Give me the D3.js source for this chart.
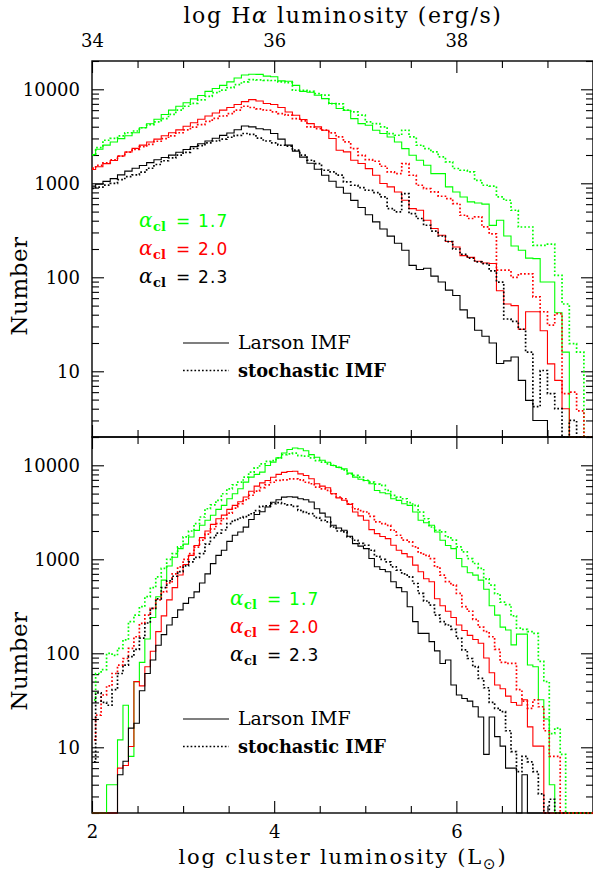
<!DOCTYPE html>
<html>
<head>
<meta charset="utf-8">
<script src="https://cdn.jsdelivr.net/npm/d3@7"></script>
<style>
  body { margin: 0; background: #fff; }
  svg text { font-family: "DejaVu Serif", serif; fill: #000; }
</style>
</head>
<body>
<div id="svgcontainer"></div>
<script>
/**------------------------------------------------------------------------
 *                      DATA (number of clusters per bin)
 *------------------------------------------------------------------------**/
// bins in log L: left edge of the first bin and bin width
const top_bin_start = 1.96, top_bin_width = 0.08
const bot_bin_start = 1.98, bot_bin_width = 0.06

// top panel, 70 bins
const top_green_larson = [2020, 2300, 2550, 2750, 2990, 3200, 3450, 3900, 4300, 4800,
  5400, 6000, 6600, 7200, 7900, 8600, 9500, 10200, 11000, 12000,
  13200, 14200, 14450, 14400, 13800, 13600, 12300, 12200, 11000, 9500,
  9300, 8650, 7960, 7050, 6240, 5990, 4880, 4315, 4150, 3667,
  3381, 3113, 2754, 2340, 1987, 1758, 1556, 1268, 1268, 915,
  809, 716, 634, 617, 600, 357, 404, 275, 215, 194,
  160, 158, 89, 89, 42, 16, 0, 0, 0, 0]
const top_green_stoch = [2000, 2400, 2870, 3000, 3200, 3450, 3600, 3900, 4200, 4500,
  4880, 5400, 6000, 6600, 7100, 7700, 8400, 9200, 9800, 10400,
  11200, 12000, 12680, 12600, 12470, 12400, 11970, 11800, 9770, 9770,
  9500, 9000, 8650, 7050, 7000, 5990, 5740, 5300, 4500, 4315,
  3981, 3380, 3243, 3667, 3113, 2540, 2340, 2158, 1909, 1690,
  1436, 1377, 1321, 1076, 953, 931, 716, 660, 517, 343,
  343, 219, 219, 225, 105, 52, 19.7, 16, 0, 0]
const top_red_larson = [1400, 1500, 1620, 1750, 1950, 2150, 2350, 2550, 2750, 2950,
  3200, 3450, 3700, 4050, 4400, 4800, 5200, 5600, 6000, 6400,
  6900, 7400, 7770, 7500, 7050, 6900, 6400, 5741, 5296, 4764,
  4315, 3981, 3667, 2991, 2249, 2158, 1758, 1622, 1433, 1218,
  994, 915, 809, 660, 538, 517, 404, 330, 280, 240,
  210, 170, 163, 148, 142, 140, 72, 52, 50, 28,
  43, 43, 27, 12, 8, 4, 0, 0, 0, 0]
const top_red_stoch = [1450, 1550, 1650, 1780, 1950, 2150, 2300, 2450, 2600, 2800,
  2990, 3200, 3450, 3700, 3950, 4200, 4550, 4900, 5200, 5520,
  6000, 6600, 6400, 6200, 5984, 5750, 5520, 5300, 4880, 4610,
  3980, 3820, 3670, 3436, 3115, 2754, 2339, 1986, 1786, 1717,
  1518, 1321, 1268, 1622, 1218, 953, 879, 809, 728, 687,
  608, 457, 422, 439, 344, 290, 119, 119, 100, 109,
  109, 62, 43, 31, 41, 5.8, 6, 3.8, 0, 0]
const top_black_larson = [933, 977, 1047, 1122, 1230, 1349, 1445, 1549, 1660, 1778,
  1884, 1995, 2138, 2291, 2455, 2630, 2818, 3020, 3236, 3428,
  3715, 4074, 3981, 3800, 3715, 3388, 2950, 2547, 2198, 1897,
  1637, 1413, 1219, 1052, 908, 783, 658, 552, 463, 389,
  327, 274, 230, 194, 134, 121, 125, 103, 89, 73,
  64, 45, 37, 27.3, 23.6, 20, 12.1, 12.9, 14.2, 8,
  4.9, 3, 3, 0, 0, 0, 0, 0, 0, 0]
const top_black_stoch = [880, 912, 955, 1000, 1096, 1175, 1230, 1318, 1445, 1585,
  1738, 1862, 1995, 2138, 2344, 2512, 2692, 2818, 2951, 3090,
  3236, 3388, 3311, 3020, 2818, 2692, 2540, 2480, 2250, 1995,
  1758, 1620, 1377, 1320, 1219, 1035, 953, 900, 843, 795,
  716, 538, 496, 776, 476, 422, 358, 310, 275, 240,
  200, 175, 160, 146, 140, 117, 89, 36, 34, 28,
  16, 4.2, 10.2, 5.8, 4, 0, 3, 0, 0, 0]

// bottom panel, 92 bins
const bot_green_larson = [0, 0, 0, 4, 4, 12, 28, 8, 50, 80,
  142, 240, 400, 600, 850, 1050, 1300, 1450, 1729, 2033,
  2300, 2600, 2937, 3400, 3750, 4406, 4980, 5620, 6620, 7480,
  8000, 8450, 9950, 10800, 12000, 13500, 14700, 15300, 15000, 14300,
  13000, 12200, 11300, 10790, 9950, 9500, 9170, 8250, 7480, 7100,
  6900, 6360, 5400, 5100, 4980, 4406, 4236, 3900, 3750, 3184,
  2600, 2450, 2300, 1953, 1594, 1400, 1300, 1018, 832, 720,
  678, 600, 480, 320, 255, 190, 177, 123, 160, 160,
  75, 72, 32, 20, 4, 0, 0, 0, 0, 0, 0, 0]
const bot_green_stoch = [32, 61, 67, 100, 95, 113, 139, 217, 255, 313,
  400, 500, 650, 800, 1000, 1150, 1355, 1729, 2000, 2393,
  2817, 3451, 3800, 4236, 4980, 5620, 6200, 6620, 7480, 8450,
  9400, 10370, 11000, 11240, 12000, 13000, 13200, 13450, 12700, 12500,
  12000, 11240, 10800, 10370, 9990, 9500, 8950, 8110, 7800, 7480,
  6900, 6620, 6300, 6105, 5400, 4780, 4592, 4406, 4000, 3750,
  3184, 2700, 2207, 2037, 1953, 1729, 1600, 1355, 1200, 1018,
  902, 800, 620, 530, 430, 350, 330, 250, 185, 180,
  170, 163, 82, 50, 14, 16, 8.4, 0, 0, 0, 0, 0]
const bot_red_larson = [0, 0, 0, 0, 0, 6, 6.4, 10.2, 50, 45,
  72, 105, 170, 250, 370, 500, 680, 880, 1100, 1400,
  1700, 2000, 2350, 2700, 2950, 3400, 3750, 4100, 4600, 5300,
  6000, 6500, 6900, 7450, 8000, 8400, 8600, 8650, 8110, 7800,
  7180, 6360, 6000, 5770, 4980, 4500, 4240, 3840, 3184, 2900,
  2600, 2070, 1877, 1750, 1660, 1410, 1248, 1150, 1062, 866,
  736, 620, 577, 380, 320, 280, 240, 200, 175, 155,
  140, 128, 89, 62, 46, 42, 35, 30, 28, 32,
  16.5, 10.3, 10.3, 0, 0, 0, 0, 0, 0, 0, 0, 0]
const bot_red_stoch = [12, 22, 36, 45, 61, 75, 88, 113, 150, 208,
  255, 300, 370, 450, 560, 700, 830, 1000, 1150, 1350,
  1600, 1850, 2100, 2400, 2700, 3100, 3500, 3900, 4300, 4800,
  5300, 5800, 6200, 6600, 6900, 7010, 7180, 7180, 7000, 6600,
  6360, 5860, 5600, 5405, 4980, 4600, 4406, 3900, 3451, 3300,
  3184, 2864, 2496, 2400, 2300, 2037, 1803, 1600, 1531, 1355,
  1170, 1100, 1018, 832, 678, 580, 531, 433, 313, 280,
  230, 190, 170, 150, 110, 80, 78, 78, 41, 31,
  26, 32, 27, 15, 8, 8, 0, 0, 0, 0, 0, 0]
const bot_black_larson = [0, 0, 0, 0, 0, 5.1, 7.1, 16, 18, 40,
  61, 85, 122, 158, 200, 240, 290, 340, 390, 450,
  560, 700, 900, 1100, 1250, 1550, 1800, 1950, 2200, 2650,
  3000, 3200, 3600, 4050, 4300, 4590, 4620, 4590, 4406, 4300,
  4064, 3451, 3100, 2818, 2300, 2150, 2037, 1758, 1469, 1380,
  1300, 1018, 832, 780, 736, 577, 500, 451, 313, 217,
  163, 163, 133, 106, 78, 85, 46, 36, 33, 31,
  27, 21, 8.4, 21, 13, 10.3, 6, 6, 0, 5.1,
  0, 0, 0, 0, 0, 0, 0, 0, 0, 0, 0, 0]
const bot_black_stoch = [7, 38, 30, 28, 41, 61, 75, 92, 110, 145,
  210, 300, 380, 500, 590, 660, 740, 850, 940, 1050,
  1150, 1450, 1700, 1900, 2050, 2400, 2600, 2750, 2850, 3050,
  3300, 3650, 3700, 3900, 4000, 3900, 3800, 3654, 3317, 3150,
  3055, 2773, 2600, 2495, 2207, 2000, 1953, 1729, 1594, 1480,
  1410, 1248, 1078, 1000, 940, 832, 766, 700, 651, 553,
  433, 360, 326, 255, 217, 200, 180, 144, 109, 88,
  72, 54, 43, 30, 26, 24, 15, 9, 5.5, 8,
  7, 5.5, 3.2, 0, 2.8, 0, 0, 0, 0, 0, 0, 0]

const alpha_values = ['1.7', '2.0', '2.3']
const colors = ['#00ff00', '#ff0000', '#000000']
const imf_labels = ['Larson IMF', 'stochastic IMF']

// tick values
const x_major = [2, 4, 6]
const x_minor = [2.5, 3, 3.5, 4.5, 5, 5.5, 6.5, 7]
const ha_major = [34, 36, 38]
const ha_minor = [34.5, 35, 35.5, 36.5, 37, 37.5, 38.5, 39]
const y_major = [10, 100, 1000, 10000]
const y_minor = [2, 3, 4, 5, 6, 7, 8, 9, 20, 30, 40, 50, 60, 70, 80, 90,
  200, 300, 400, 500, 600, 700, 800, 900, 2000, 3000, 4000, 5000, 6000, 7000, 8000, 9000, 20000]

/**------------------------------------------------------------------------
 *                               LAYOUT
 *------------------------------------------------------------------------**/
const svg_width = 593, svg_height = 872
const plot_left = 92, plot_right = 593

const panels = [
  { top: 61, bottom: 437, label_y: 286, alpha_x: 139, alpha_y: 227, key_y: 343,
    bin_start: top_bin_start, bin_width: top_bin_width,
    series: [[top_green_larson, top_green_stoch], [top_red_larson, top_red_stoch], [top_black_larson, top_black_stoch]] },
  { top: 437, bottom: 813, label_y: 661, alpha_x: 230, alpha_y: 605, key_y: 719,
    bin_start: bot_bin_start, bin_width: bot_bin_width,
    series: [[bot_green_larson, bot_green_stoch], [bot_red_larson, bot_red_stoch], [bot_black_larson, bot_black_stoch]] }
]

const dots = '1.7,2.1'

const svg = d3.select('#svgcontainer').append('svg')
  .attr('width', svg_width)
  .attr('height', svg_height)

svg.append('rect').attr('width', svg_width).attr('height', svg_height).attr('fill', '#fff')

const x = d3.scaleLinear().domain([2, 7.5]).range([plot_left, plot_right])
const x_ha = d3.scaleLinear().domain([34, 39.5]).range([plot_left, plot_right])

// draw an axis, strip the domain line and restyle ticks
function draw_axis(gen, tx, ty) {
  const g = svg.append('g')
    .attr('transform', 'translate(' + tx + ',' + ty + ')')
    .call(gen)
  g.select('.domain').remove()
  g.attr('font-family', null).attr('font-size', 18)
  g.selectAll('line').attr('stroke-width', 1.1)
  return g
}

panels.forEach((p, i) => {
  const y = d3.scaleLog().domain([2, 20000]).range([p.bottom, p.top]).clamp(true)

  // frame
  svg.append('rect')
    .attr('x', plot_left).attr('y', p.top)
    .attr('width', plot_right - plot_left).attr('height', p.bottom - p.top)
    .attr('fill', 'none').attr('stroke', 'black').attr('stroke-width', 1.4)

  // y ticks, left and right
  draw_axis(d3.axisLeft(y).tickValues(y_major).tickSize(-12).tickPadding(12).tickFormat(d3.format('d')), plot_left, 0)
  draw_axis(d3.axisLeft(y).tickValues(y_minor).tickSize(-7).tickFormat(''), plot_left, 0)
  draw_axis(d3.axisRight(y).tickValues(y_major).tickSize(-12).tickFormat(''), plot_right, 0)
  draw_axis(d3.axisRight(y).tickValues(y_minor).tickSize(-7).tickFormat(''), plot_right, 0)

  // x ticks, bottom of panel
  const bottom_labels = i === 1 ? d3.format('d') : ''
  draw_axis(d3.axisBottom(x).tickValues(x_major).tickSize(-12).tickPadding(12).tickFormat(bottom_labels), 0, p.bottom)
  draw_axis(d3.axisBottom(x).tickValues(x_minor).tickSize(-7).tickFormat(''), 0, p.bottom)

  // x ticks, top of panel (H-alpha scale on the top panel)
  if (i === 0) {
    draw_axis(d3.axisTop(x_ha).tickValues(ha_major).tickSize(-12).tickPadding(14).tickFormat(d3.format('d')), 0, p.top)
    draw_axis(d3.axisTop(x_ha).tickValues(ha_minor).tickSize(-7).tickFormat(''), 0, p.top)
  } else {
    draw_axis(d3.axisTop(x).tickValues(x_major).tickSize(-12).tickFormat(''), 0, p.top)
    draw_axis(d3.axisTop(x).tickValues(x_minor).tickSize(-7).tickFormat(''), 0, p.top)
  }

  // histograms
  svg.append('clipPath').attr('id', 'clip' + i)
    .append('rect')
    .attr('x', plot_left).attr('y', p.top - 1)
    .attr('width', plot_right - plot_left).attr('height', p.bottom - p.top + 2)
  const g = svg.append('g').attr('clip-path', 'url(#clip' + i + ')')

  const line = d3.line()
    .x(d => x(d[0]))
    .y(d => y(d[1] > 0 ? d[1] : 0.5))
    .curve(d3.curveStepAfter)

  // solid first, dotted on top
  for (let style = 0; style < 2; style++) {
    p.series.forEach((pair, c) => {
      const values = pair[style]
      let pts = values.map((v, k) => [p.bin_start + k * p.bin_width, v])
      pts.push([p.bin_start + values.length * p.bin_width, values[values.length - 1]])
      g.append('path')
        .attr('d', line(pts))
        .attr('fill', 'none')
        .attr('stroke', colors[c])
        .attr('stroke-width', style === 0 ? 1.1 : 1.7)
        .attr('stroke-dasharray', style === 0 ? null : dots)
    })
  }

  // y axis title
  svg.append('text')
    .attr('transform', 'translate(27,' + p.label_y + ') rotate(-90)')
    .attr('text-anchor', 'middle')
    .attr('font-size', 23)
    .attr('letter-spacing', 0.5)
    .text('Number')

  // alpha_cl labels
  alpha_values.forEach((a, k) => {
    const by = p.alpha_y + k * 28
    svg.append('text').attr('x', p.alpha_x).attr('y', by)
      .attr('font-size', 20).attr('font-style', 'italic').style('fill', colors[k])
      .text('α')
    svg.append('text').attr('x', p.alpha_x + 14).attr('y', by + 4)
      .attr('font-size', 13).attr('font-weight', 'bold').style('fill', colors[k])
      .text('cl')
    svg.append('text').attr('x', p.alpha_x + 37).attr('y', by)
      .attr('font-size', 17).style('font-family', '"DejaVu Sans", sans-serif').style('fill', colors[k])
      .text('=')
    svg.append('text').attr('x', p.alpha_x + 59).attr('y', by)
      .attr('font-size', 17).attr('letter-spacing', 1.2)
      .style('font-family', '"DejaVu Sans", sans-serif').style('fill', colors[k])
      .text(a)
  })

  // IMF key
  imf_labels.forEach((lab, k) => {
    const ky = p.key_y + k * 27.5
    svg.append('line')
      .attr('x1', 183).attr('x2', 229).attr('y1', ky).attr('y2', ky)
      .attr('stroke', 'black')
      .attr('stroke-width', k === 0 ? 1.1 : 1.7)
      .attr('stroke-dasharray', k === 0 ? null : dots)
    const t = svg.append('text')
      .attr('x', 238).attr('y', ky + 6)
      .attr('font-size', 19)
      .text(lab)
    if (k === 1) t.attr('font-weight', 'bold').attr('textLength', 148).attr('lengthAdjust', 'spacingAndGlyphs')
  })
})

// axis titles
const top_title = svg.append('text')
  .attr('x', 343).attr('y', 23)
  .attr('text-anchor', 'middle')
  .attr('font-size', 22)
  .attr('letter-spacing', 1.6)
top_title.append('tspan').text('log H')
top_title.append('tspan').attr('font-style', 'italic').text('α')
top_title.append('tspan').text(' luminosity (erg/s)')

const bot_title = svg.append('text')
  .attr('x', 343).attr('y', 864)
  .attr('text-anchor', 'middle')
  .attr('font-size', 21)
  .attr('letter-spacing', 1.8)
bot_title.append('tspan').text('log cluster luminosity (L')
bot_title.append('tspan').attr('dy', 5).attr('font-size', 15).style('font-family', '"DejaVu Sans", sans-serif').text('⊙')
bot_title.append('tspan').attr('dy', -5).text(')')
</script>
</body>
</html>
